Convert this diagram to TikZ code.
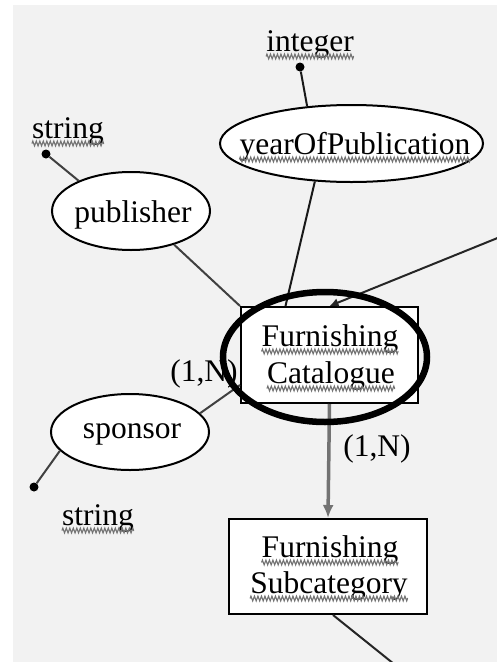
\documentclass[tikz,border=0pt]{standalone}
\usepackage{fontspec}
\setmainfont{Liberation Serif}
\usetikzlibrary{arrows.meta,shapes.geometric,decorations.pathmorphing}
\newcommand\squig[1]{\draw[sq] ([yshift=-5.5pt]#1.base west) -- ([yshift=-5.5pt]#1.base east);}
\begin{document}
\begin{tikzpicture}[x=1pt,y=-1pt,
  txt/.style={inner sep=0pt, anchor=base, font=\fontsize{31.5}{38}\selectfont},
  attr/.style={ellipse, draw=black, line width=2pt, fill=white, inner sep=0pt},
  ent/.style={rectangle, draw=black, line width=2pt, fill=white, inner sep=0pt},
  dot/.style={circle, fill=black, inner sep=0pt, minimum size=9pt},
  link/.style={draw=black!75, line width=2pt},
  mainlink/.style={draw=black!55, line width=3.5pt},
  sq/.style={draw=black!55, line width=1.1pt, decorate, decoration={zigzag, amplitude=2.4pt, segment length=3.5pt}},
  hl/.style={ellipse, draw=black, line width=6.5pt, inner sep=0pt},
]
\useasboundingbox (0,0) rectangle (497,662);
\fill[black!5] (0,0) rectangle (497,662);
\fill[white] (0,0) rectangle (13,662);
\fill[white] (0,0) rectangle (497,5);

% shapes
\node[attr, minimum width=263pt, minimum height=77pt] (year) at (351.5,143.5) {};
\node[attr, minimum width=158pt, minimum height=78pt] (pub) at (131,211) {};
\node[attr, minimum width=158pt, minimum height=76pt] (spon) at (130,432) {};
\node[ent, minimum width=177pt, minimum height=96pt] (cat) at (329.5,355) {};
\node[ent, minimum width=198pt, minimum height=95pt] (sub) at (328,566.5) {};
\node[dot] (dotI) at (300,67) {};
\node[dot] (dotS1) at (46,154) {};
\node[dot] (dotS2) at (34,487) {};
\coordinate (offR) at (500,237);
\coordinate (offB) at (394,664);

% connectors
\draw[link, draw=black!90] (dotI) -- (year.140);
\draw[link, draw=black!90] (year.226) -- ([xshift=-44pt]cat.north);
\draw[link] (dotS1) -- (pub.150);
\draw[link] (pub.322) -- (cat.north west);
\draw[link, draw=black!85, -{Latex[length=9pt,width=9pt]}] (offR) -- (cat.north);
\draw[link] (spon.15) -- ([yshift=19pt]cat.south west);
\draw[link] (spon.195) -- (dotS2);
\draw[mainlink, -{Latex[length=13pt,width=11pt]}] (cat.south) -- (sub.north);
\draw[link, draw=black!85] ([xshift=5pt]sub.south) -- (offB);

% texts
\node[txt] (tInt) at (310,51) {integer};
\node[txt] (tStr1) at (68,138) {string};
\node[txt] (tYear) at (355,154) {yearOfPublication};
\node[txt] (tPub) at (133,222) {publisher};
\node[txt] (tCatA) at (330,346) {Furnishing};
\node[txt] (tCatB) at (331,383) {Catalogue};
\node[txt] (l1) at (204,381) {(1,N)};
\node[txt] (tSpon) at (132,438) {sponsor};
\node[txt] (l2) at (377,456) {(1,N)};
\node[txt] (tStr2) at (98,525) {string};
\node[txt] (tSubA) at (330,557) {Furnishing};
\node[txt] (tSubB) at (329,593) {Subcategory};
\squig{tInt}
\squig{tStr1}
\squig{tYear}
\squig{tCatA}
\squig{tCatB}
\squig{tStr2}
\squig{tSubA}
\squig{tSubB}

% highlight
\node[hl, minimum width=204pt, minimum height=130pt] (catHL) at (325,357) {};
\end{tikzpicture}
\end{document}
